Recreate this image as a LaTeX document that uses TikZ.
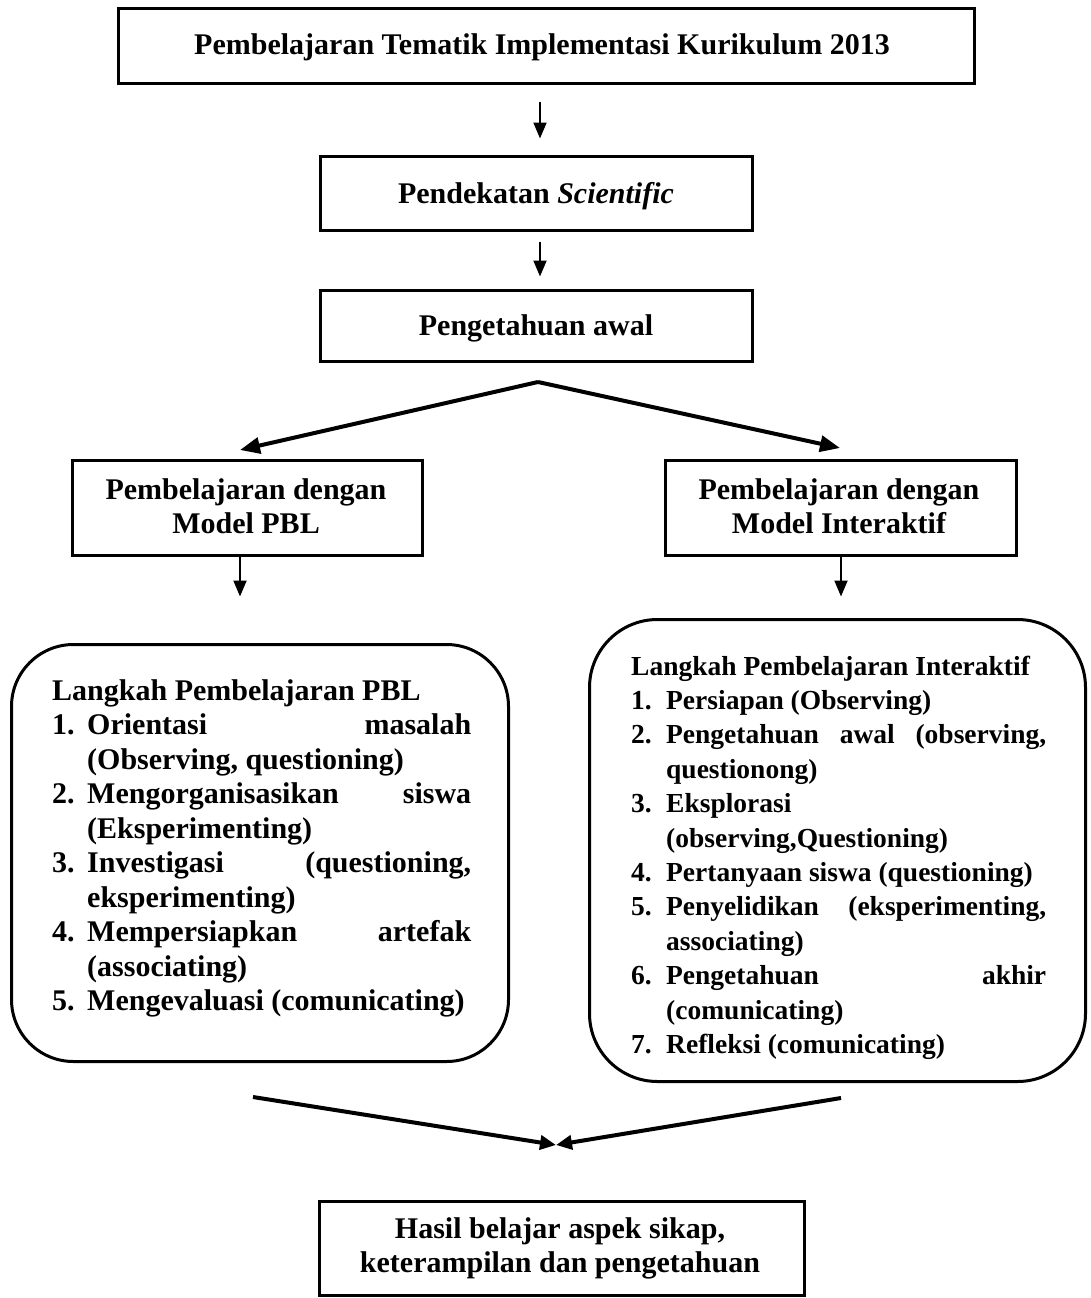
\documentclass[tikz,border=0pt]{standalone}
\usepackage{fontspec}
\setmainfont{Liberation Serif}
\usetikzlibrary{arrows.meta}
\newcommand\numcell[1]{\makebox[35pt][l]{#1}}
\begin{document}
\begin{tikzpicture}[x=1pt,y=-1pt,
  box/.style={draw, line width=3pt, inner sep=0pt},
  rbox/.style={draw, line width=3pt, inner sep=0pt, rounded corners=62pt},
  txt/.style={font=\fontsize{30}{34.5}\selectfont\bfseries, inner sep=0pt},
  txtsmall/.style={font=\fontsize{27.5}{34.4}\selectfont\bfseries, inner sep=0pt},
  arr/.style={line width=2pt, -{Triangle[length=16pt,width=13pt]}},
  farr/.style={line width=4pt, -{Triangle[length=20pt,width=16pt]}},
  marr/.style={line width=4pt, -{Triangle[length=16pt,width=14pt]}}]
\useasboundingbox (0,0) rectangle (1090,1298);

% boxes
\node[box, minimum width=856pt, minimum height=74pt] (b1) at (546,46) {};
\node[box, minimum width=432pt, minimum height=74pt] (b2) at (536,193) {};
\node[box, minimum width=432pt, minimum height=71pt] (b3) at (536,325.5) {};
\node[box, minimum width=350pt, minimum height=95pt] (pbl) at (247.5,508) {};
\node[box, minimum width=351pt, minimum height=95pt] (int) at (841,508) {};
\node[rbox, minimum width=497pt, minimum height=417pt] (lbox) at (260,853) {};
\node[rbox, minimum width=496pt, minimum height=462pt, rounded corners=68pt] (rbox) at (837.5,850.5) {};
\node[box, minimum width=485pt, minimum height=94pt] (hasil) at (562,1248.5) {};

% texts
\node[txt, anchor=base] (t1) at (542,55) {Pembelajaran Tematik Implementasi Kurikulum 2013};
\node[txt, anchor=base] (t2) at (536,203) {Pendekatan \textit{Scientific}};
\node[txt, anchor=base] (t3) at (536,335) {Pengetahuan awal};
\node[txt, anchor=base] (tpbl) at (246,499) {\begin{tabular}[t]{@{}c@{}}Pembelajaran dengan\\Model PBL\end{tabular}};
\node[txt, anchor=base] (tint) at (839,499) {\begin{tabular}[t]{@{}c@{}}Pembelajaran dengan\\Model Interaktif\end{tabular}};
\node[txt, anchor=base] (thasil) at (560,1238) {\begin{tabular}[t]{@{}c@{}}Hasil belajar aspek sikap,\\keterampilan dan pengetahuan\end{tabular}};

\node[txt, anchor=base west] (ltext) at (52,700) {\begin{tabular}[t]{@{}l@{}l@{}}
\multicolumn{2}{@{}l@{}}{Langkah Pembelajaran PBL}\\
\numcell{1.} & \makebox[384pt][s]{Orientasi masalah}\\
 & (Observing, questioning)\\
\numcell{2.} & \makebox[384pt][s]{Mengorganisasikan siswa}\\
 & (Eksperimenting)\\
\numcell{3.} & \makebox[384pt][s]{Investigasi (questioning,}\\
 & eksperimenting)\\
\numcell{4.} & \makebox[384pt][s]{Mempersiapkan artefak}\\
 & (associating)\\
\numcell{5.} & Mengevaluasi (comunicating)
\end{tabular}};

\node[txtsmall, anchor=base west] (rtext) at (631,675) {\begin{tabular}[t]{@{}l@{}l@{}}
\multicolumn{2}{@{}l@{}}{Langkah Pembelajaran Interaktif}\\
\numcell{1.} & Persiapan (Observing)\\
\numcell{2.} & \makebox[380pt][s]{Pengetahuan awal (observing,}\\
 & questionong)\\
\numcell{3.} & Eksplorasi\\
 & (observing,Questioning)\\
\numcell{4.} & Pertanyaan siswa (questioning)\\
\numcell{5.} & \makebox[380pt][s]{Penyelidikan (eksperimenting,}\\
 & associating)\\
\numcell{6.} & \makebox[380pt][s]{Pengetahuan akhir}\\
 & (comunicating)\\
\numcell{7.} & Refleksi (comunicating)
\end{tabular}};

% connectors
\coordinate (ax) at (540,0);
\draw[arr, shorten <=17pt, shorten >=16pt] (b1.south -| ax) -- (b2.north -| ax);
\draw[arr, shorten <=10pt, shorten >=12pt] (b2.south -| ax) -- (b3.north -| ax);

\coordinate (apex) at (538,382);
\coordinate (tipL) at (240,450);
\coordinate (tipR) at (840,448);
\draw[farr] (apex) -- (tipL);
\draw[farr] (apex) -- (tipR);

\coordinate (lx) at (240,0);
\coordinate (rx) at (841,0);
\draw[arr, shorten >=46.5pt] (pbl.south -| lx) -- (lbox.north -| lx);
\draw[arr, shorten >=21.5pt] (int.south -| rx) -- (rbox.north -| rx);

\coordinate (m1) at (253,1097);
\coordinate (m2) at (841,1098);
\coordinate (mj) at (556,1145);
\draw[marr] (m1) -- (mj);
\draw[marr] (m2) -- (mj);
\end{tikzpicture}
\end{document}
